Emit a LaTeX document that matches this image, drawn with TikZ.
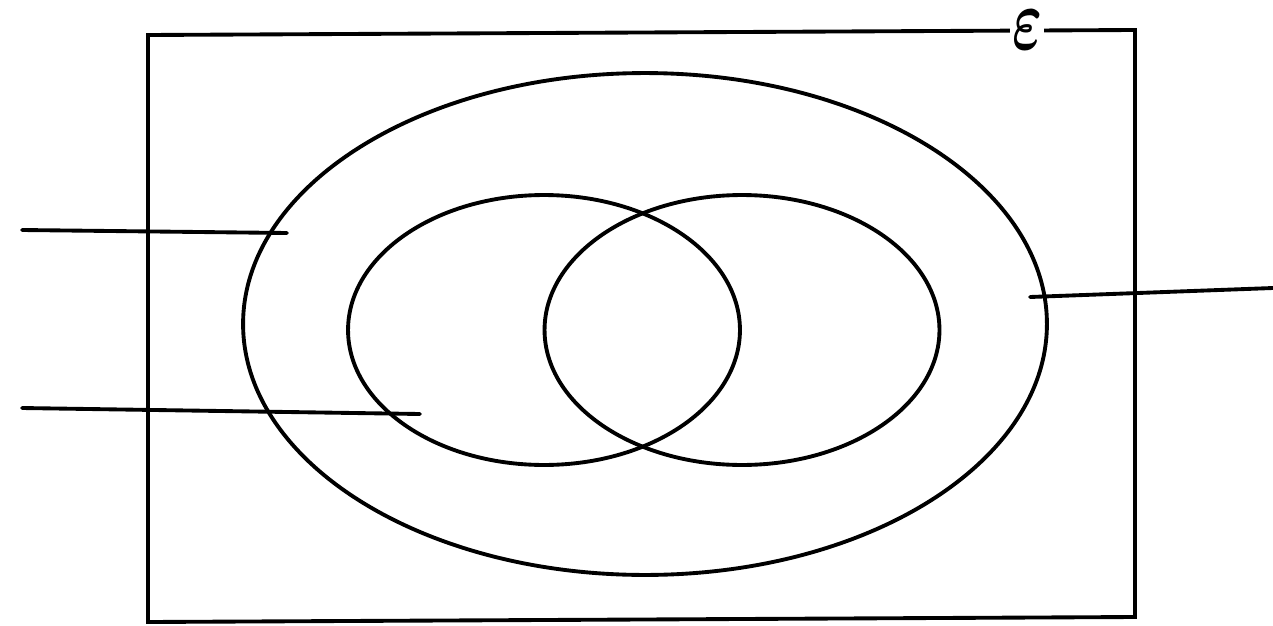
\documentclass[tikz,border=0pt]{standalone}
\usepackage{amsmath}
\usepackage{tikz}
\usetikzlibrary{shapes.geometric}
\tikzset{
  setline/.style={line width=2.2pt, line cap=round},
  setoval/.style={ellipse, draw, line width=2.2pt, inner sep=0pt}
}
\begin{document}
\begin{tikzpicture}[x=0.02cm, y=-0.02cm]
    \useasboundingbox (0,0) rectangle (1273,625);

    % Universal set
    \draw[setline, line join=miter] (148,35) -- (1135,30) -- (1135,617) -- (148,622) -- cycle;
    \node[fill=white, inner xsep=1pt, inner ysep=0pt] (eps) at (1027,30) {\resizebox{0.6cm}{0.78cm}{$\boldsymbol{\varepsilon}$}};

    % Sets
    \node[setoval, minimum width=16.08cm, minimum height=10.04cm] (big) at (645,324) {};
    \node[setoval, minimum width=7.84cm, minimum height=5.4cm] (left) at (544,330) {};
    \node[setoval, minimum width=7.9cm, minimum height=5.4cm] (right) at (742,330) {};

    % Leader lines
    \coordinate (la) at (22,230);  \coordinate (lae) at (287,233);
    \coordinate (lb) at (22,408);  \coordinate (lbe) at (420,414);
    \coordinate (rc) at (1273,288); \coordinate (rce) at (1030,297);
    \draw[setline] (la) -- (lae);
    \draw[setline] (lb) -- (lbe);
    \draw[setline] (rce) -- (rc);

\end{tikzpicture}
\end{document}
